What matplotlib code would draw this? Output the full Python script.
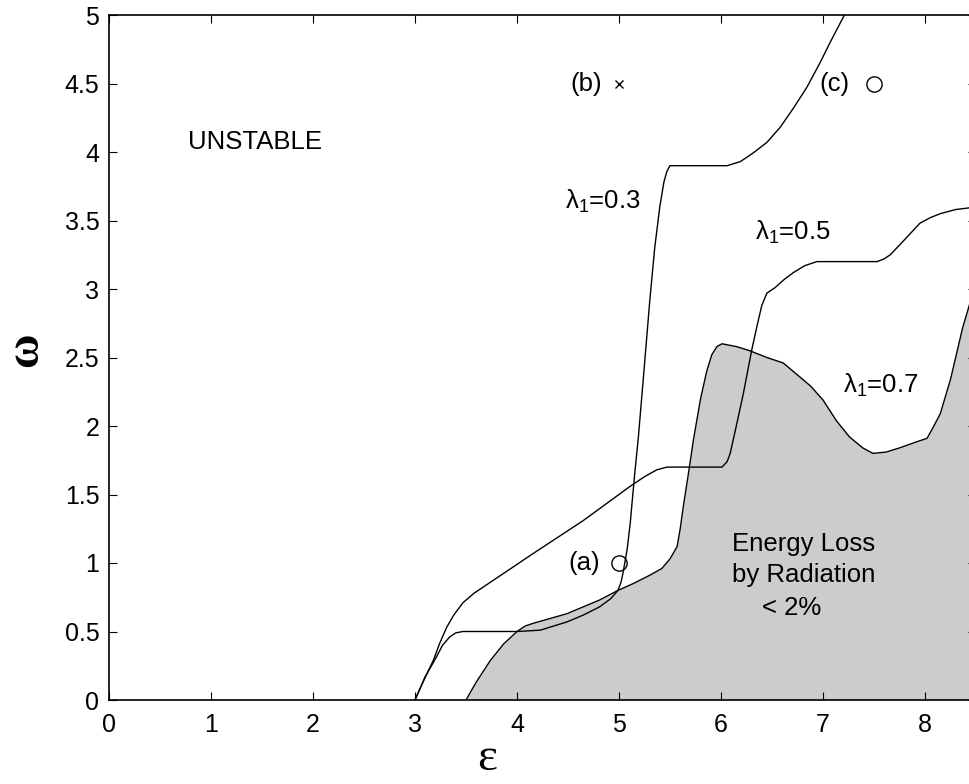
import matplotlib
matplotlib.use("Agg")
import matplotlib.pyplot as plt

plt.rcParams['font.family'] = ['Liberation Sans', 'DejaVu Sans']
plt.rcParams['mathtext.fontset'] = 'custom'
plt.rcParams['mathtext.rm'] = 'Liberation Sans'
plt.rcParams['mathtext.it'] = 'Liberation Sans'

# lambda_1 = 0.3 boundary
eps_03 = [3.0, 3.1, 3.2, 3.27, 3.34, 3.40, 3.47, 4.0, 4.12, 4.23, 4.49, 4.65, 4.81,
          4.92, 4.99, 5.02, 5.04, 5.08, 5.11, 5.15, 5.19, 5.24, 5.30, 5.35, 5.40,
          5.44, 5.47, 5.50, 6.06, 6.19, 6.31, 6.45, 6.58, 6.71, 6.84, 6.97, 7.07, 7.21]
om_03 = [0.0, 0.17, 0.30, 0.40, 0.46, 0.49, 0.50, 0.50, 0.505, 0.51, 0.57, 0.62, 0.68,
         0.74, 0.80, 0.86, 0.93, 1.10, 1.29, 1.62, 1.92, 2.36, 2.90, 3.30, 3.60,
         3.78, 3.86, 3.90, 3.90, 3.93, 3.99, 4.07, 4.18, 4.32, 4.47, 4.65, 4.80, 5.0]

# lambda_1 = 0.5 boundary
eps_05 = [3.0, 3.09, 3.18, 3.24, 3.31, 3.38, 3.47, 3.58, 3.70, 4.16, 4.65, 5.11, 5.25,
          5.37, 5.47, 6.01, 6.06, 6.09, 6.15, 6.22, 6.30, 6.35, 6.40, 6.45, 6.53,
          6.62, 6.71, 6.82, 6.94, 7.53, 7.60, 7.66, 7.80, 7.95, 8.05, 8.15, 8.30, 8.41, 8.5]
om_05 = [0.0, 0.15, 0.29, 0.41, 0.53, 0.62, 0.71, 0.78, 0.84, 1.07, 1.31, 1.56, 1.63,
         1.68, 1.70, 1.70, 1.74, 1.80, 2.00, 2.24, 2.55, 2.72, 2.88, 2.97, 3.01,
         3.07, 3.12, 3.17, 3.20, 3.20, 3.22, 3.25, 3.36, 3.48, 3.52, 3.55, 3.58, 3.59, 3.60]

# lambda_1 = 0.7 boundary (shaded region below)
eps_07 = [3.5, 3.6, 3.74, 3.87, 4.0, 4.08, 4.16, 4.49, 4.81, 4.99, 5.14, 5.30, 5.42,
          5.50, 5.57, 5.60, 5.63, 5.68, 5.73, 5.80, 5.86, 5.91, 5.96, 6.01, 6.15,
          6.28, 6.45, 6.61, 6.77, 6.88, 7.00, 7.13, 7.26, 7.39, 7.49, 7.62, 7.75,
          7.90, 8.02, 8.08, 8.15, 8.25, 8.31, 8.37, 8.43, 8.5]
om_07 = [0.0, 0.13, 0.29, 0.41, 0.50, 0.54, 0.56, 0.63, 0.73, 0.80, 0.85, 0.91, 0.96,
         1.03, 1.12, 1.25, 1.41, 1.65, 1.90, 2.20, 2.40, 2.52, 2.58, 2.60, 2.58,
         2.55, 2.50, 2.46, 2.36, 2.29, 2.19, 2.04, 1.92, 1.84, 1.80, 1.81, 1.84,
         1.88, 1.91, 1.99, 2.09, 2.34, 2.53, 2.72, 2.87, 3.05]

# marked points
pt_a = (5.0, 1.0)
pt_b = (5.0, 4.5)
pt_c = (7.5, 4.5)

fig = plt.figure(figsize=(9.69, 7.84), dpi=100)
ax = fig.add_axes([109/969, 84/784, 867/969, 685/784])

ax.fill_between(eps_07, 0, om_07, color='#cccccc', lw=0)
ax.plot(eps_07, om_07, color='black', lw=1)
ax.plot(eps_05, om_05, color='black', lw=1)
ax.plot(eps_03, om_03, color='black', lw=1)

ax.plot(*pt_a, marker='o', ms=11, mfc='none', mec='black', mew=1)
ax.plot(*pt_b, marker='x', ms=6, mec='black', mew=1)
ax.plot(*pt_c, marker='o', ms=11, mfc='none', mec='black', mew=1)

fs = 18.5
ax.text(4.81, 1.0, '(a)', fontsize=fs, ha='right', va='center')
ax.text(4.83, 4.5, '(b)', fontsize=fs, ha='right', va='center')
ax.text(7.26, 4.5, '(c)', fontsize=fs, ha='right', va='center')
ax.text(0.77, 4.07, 'UNSTABLE', fontsize=fs, ha='left', va='center')
ax.text(4.47, 3.64, r'$\mathrm{\lambda_1}$=0.3', fontsize=fs, ha='left', va='center')
ax.text(6.33, 3.41, r'$\mathrm{\lambda_1}$=0.5', fontsize=fs, ha='left', va='center')
ax.text(7.20, 2.30, r'$\mathrm{\lambda_1}$=0.7', fontsize=fs, ha='left', va='center')
ax.text(6.11, 1.14, 'Energy Loss', fontsize=fs, ha='left', va='center')
ax.text(6.11, 0.91, 'by Radiation', fontsize=fs, ha='left', va='center')
ax.text(6.40, 0.67, '< 2%', fontsize=fs, ha='left', va='center')

ax.set_xlim(0, 8.5)
ax.set_ylim(0, 5)
ax.set_xticks(range(0, 9))
ax.set_yticks([0, 0.5, 1, 1.5, 2, 2.5, 3, 3.5, 4, 4.5, 5])
ax.set_yticklabels(['0', '0.5', '1', '1.5', '2', '2.5', '3', '3.5', '4', '4.5', '5'])
ax.tick_params(direction='in', top=True, right=True, length=6, width=0.8,
               labelsize=18)
ax.tick_params(axis='x', pad=9)
ax.tick_params(axis='y', pad=7)
for s in ax.spines.values():
    s.set_linewidth(1.2)

# axis labels placed by hand since the axes run past the right edge
ax.set_xlabel('ε', fontsize=34, family='Liberation Serif')
ax.xaxis.set_label_coords((487 - 109) / 867, -0.055)
ax.set_ylabel('ω', fontsize=34, family='Liberation Serif', fontweight='bold')
ax.yaxis.set_label_coords((47 - 109) / 867, (700 - 350) / 685)

fig.savefig('out.png', dpi=100)
